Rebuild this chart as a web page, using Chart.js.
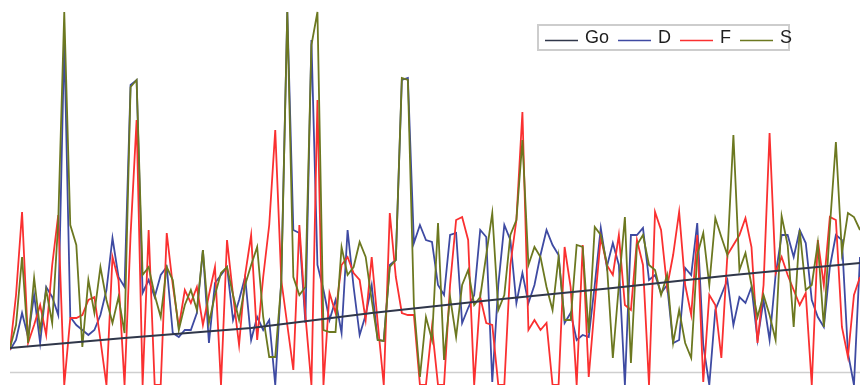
<!DOCTYPE html>
<html>
<head>
<meta charset="utf-8">
<script src="https://cdn.jsdelivr.net/npm/chart.js@4.4.1/dist/chart.umd.min.js"></script>
<style>
  html, body { margin: 0; padding: 0; background: #fff; }
  #chart { display: block; }
</style>
</head>
<body>
<canvas id="chart" width="862" height="391"></canvas>
<script>
// values (height units, 0 = bottom of plot)
var seriesNames = ['Go', 'D', 'F', 'S'];

var goIdx  = [0, 19, 40, 60, 80, 100, 120, 141];
var goVals = [37, 47, 57, 72, 85, 97, 110, 122];

var dVals = [35,45,72,48,90,42,98,88,70,345,
  68,60,55,50,55,70,95,147,108,98,
  300,305,92,105,88,110,118,52,48,55,
  55,72,135,42,102,110,118,65,85,108,
  45,68,55,65,0,105,373,155,152,62,
  345,120,95,65,85,52,155,98,50,70,
  100,45,44,120,125,305,307,142,160,145,
  143,100,90,150,152,62,77,90,155,148,
  3,100,160,145,82,112,82,100,130,155,
  140,130,62,72,45,50,48,100,157,118,
  142,120,0,150,150,157,105,110,92,100,
  42,45,117,110,162,40,0,75,90,105,
  60,88,82,98,45,85,45,110,150,150,
  128,155,142,85,68,58,118,150,145,32,
  0,128];

var fVals = [35,90,173,42,60,80,50,120,170,0,
  67,67,70,85,88,45,0,128,105,0,
  150,265,0,155,0,0,152,100,58,95,
  82,98,60,90,118,0,145,90,40,110,
  150,45,108,160,255,105,60,15,160,70,
  0,285,0,92,72,120,128,112,105,65,
  128,62,0,172,108,72,70,70,0,0,
  58,0,0,100,165,168,145,0,88,62,
  60,0,0,120,165,273,55,65,55,62,
  0,0,138,98,0,140,8,80,148,120,
  110,150,80,75,145,120,0,173,155,98,
  130,173,100,70,150,3,90,80,27,130,
  140,150,167,138,42,100,252,112,128,110,
  95,80,92,0,145,100,168,165,58,28,
  90,108];

var sVals = [37,60,128,42,107,55,95,62,163,373,
  160,140,38,105,72,118,85,62,88,52,
  298,305,110,118,90,68,118,105,55,80,
  95,75,135,62,90,112,118,90,65,100,
  120,138,68,28,28,102,373,108,90,98,
  340,373,55,53,53,138,110,118,143,128,
  85,45,44,118,125,307,305,80,8,68,
  45,162,25,88,48,100,115,80,88,130,
  172,75,90,150,165,245,120,138,128,98,
  75,128,65,65,140,138,52,158,150,122,
  27,100,168,22,140,150,120,115,90,110,
  42,75,42,27,130,152,100,167,148,130,
  250,115,132,100,68,90,70,45,169,140,
  58,155,95,100,142,58,158,243,132,172,
  168,155];

var refLine = 13;

var colors = ['#30374a', '#3e4aa2', '#fa3030', '#6c7820'];

function toPoints(vals) {
  return vals.map(function (v, i) { return { x: i, y: v }; });
}

var goPoints = goIdx.map(function (x, k) { return { x: x, y: goVals[k] }; });

// gray reference line and boxed legend
var extras = {
  id: 'extras',
  beforeDatasetsDraw: function (chart) {
    var c = chart.ctx, a = chart.chartArea;
    var y = Math.round(chart.scales.y.getPixelForValue(refLine)) + 0.5;
    c.save();
    c.strokeStyle = '#cfcfcf';
    c.lineWidth = 1.5;
    c.beginPath();
    c.moveTo(a.left, y);
    c.lineTo(a.right, y);
    c.stroke();
    c.restore();
  },
  afterDraw: function (chart) {
    var c = chart.ctx;
    c.save();
    c.fillStyle = '#fff';
    c.fillRect(538, 25, 251, 25);
    c.strokeStyle = '#cdcdcd';
    c.lineWidth = 2;
    c.strokeRect(538, 25, 251, 25);
    c.font = '18px "Liberation Sans", Arial, sans-serif';
    c.textBaseline = 'middle';
    var x = 545;
    chart.data.datasets.forEach(function (ds) {
      c.strokeStyle = ds.borderColor;
      c.lineWidth = 1.5;
      c.beginPath();
      c.moveTo(x, 40.5);
      c.lineTo(x + 33, 40.5);
      c.stroke();
      x += 40;
      c.fillStyle = '#1e1e1e';
      c.fillText(ds.label, x, 38.5);
      x += c.measureText(ds.label).width + 9;
    });
    c.restore();
  }
};

var ctx = document.getElementById('chart').getContext('2d');
var chart = new Chart(ctx, {
  type: 'line',
  data: {
    datasets: [
      { label: seriesNames[0], data: goPoints, borderColor: colors[0], borderWidth: 1.8, order: 0 },
      { label: seriesNames[1], data: toPoints(dVals), borderColor: colors[1], borderWidth: 1.8, order: 3 },
      { label: seriesNames[2], data: toPoints(fVals), borderColor: colors[2], borderWidth: 1.8, order: 2 },
      { label: seriesNames[3], data: toPoints(sVals), borderColor: colors[3], borderWidth: 1.8, order: 1 }
    ]
  },
  options: {
    responsive: false,
    animation: false,
    layout: { padding: { left: 10, right: 2, top: 10, bottom: 6 } },
    elements: {
      point: { radius: 0 },
      line: { tension: 0, fill: false }
    },
    scales: {
      x: { type: 'linear', min: 0, max: 141, display: false },
      y: { min: 0, max: 375, display: false }
    },
    plugins: {
      legend: { display: false },
      tooltip: { enabled: false }
    }
  },
  plugins: [extras]
});
</script>
</body>
</html>
